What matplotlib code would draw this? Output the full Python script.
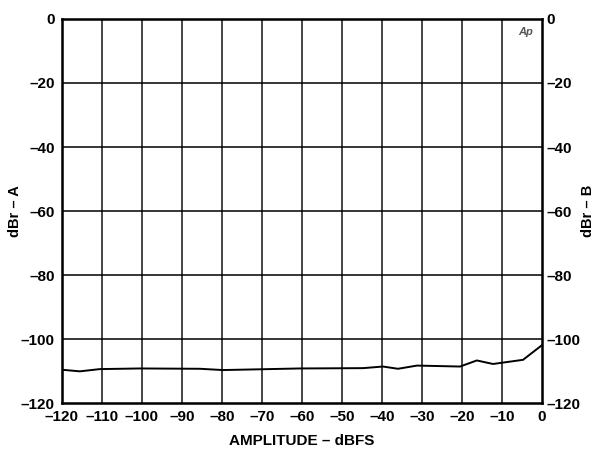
import matplotlib
matplotlib.use("Agg")
import matplotlib.pyplot as plt

plt.rcParams["font.family"] = ["Liberation Sans", "DejaVu Sans"]
plt.rcParams["font.weight"] = "bold"

amplitude = [-120, -115.5, -110.5, -100.5, -85.5, -79.75, -60.5, -44.75, -39.75,
             -36, -31.25, -20.5, -16.3, -12.25, -4.75, 0]
dbr = [-109.6, -110.1, -109.4, -109.2, -109.3, -109.7, -109.2, -109.1, -108.6,
       -109.3, -108.3, -108.6, -106.7, -107.8, -106.5, -101.9]

x_ticks = list(range(-120, 1, 10))
y_ticks = list(range(-120, 1, 20))
fs = 11


def lbl(v):
    return str(v).replace("-", "\u2013")


fig = plt.figure(figsize=(5.95, 4.49), dpi=100)
ax = fig.add_axes([0.104, 0.1024, 0.807, 0.8553])
ax.plot(amplitude, dbr, color="black", lw=1.4)
ax.set_xlim(-120, 0)
ax.set_ylim(-120, 0)
ax.set_xticks(x_ticks)
ax.set_xticklabels([lbl(v) for v in x_ticks], fontsize=fs, fontweight="bold")
ax.set_yticks(y_ticks)
ax.set_yticklabels([lbl(v) for v in y_ticks], fontsize=fs, fontweight="bold")
ax.tick_params(length=0, pad=5)
for v in x_ticks[1:-1]:
    ax.axvline(v, color="#444444", lw=1.4, zorder=0)
for v in y_ticks[1:-1]:
    ax.axhline(v, color="black", lw=1.1, zorder=0)
for s in ax.spines.values():
    s.set_linewidth(1.8)

ax2 = ax.twinx()
ax2.set_ylim(-120, 0)
ax2.set_yticks(y_ticks)
ax2.set_yticklabels([lbl(v) for v in y_ticks], fontsize=fs, fontweight="bold")
ax2.tick_params(length=0, pad=3)

ax.set_xlabel("AMPLITUDE \u2013 dBFS", fontsize=fs, fontweight="bold", labelpad=7)
fig.text(15 / 595, 0.53, "dBr \u2013 A", fontsize=10.5, fontweight="bold",
         rotation=90, ha="center", va="center")
fig.text(588 / 595, 0.53, "dBr \u2013 B", fontsize=10.5, fontweight="bold",
         rotation=90, ha="center", va="center")

ax.text(-4, -4, "Ap", fontsize=8, style="italic", color="#555555",
        ha="center", va="center")

fig.savefig("out.png", dpi=100)
